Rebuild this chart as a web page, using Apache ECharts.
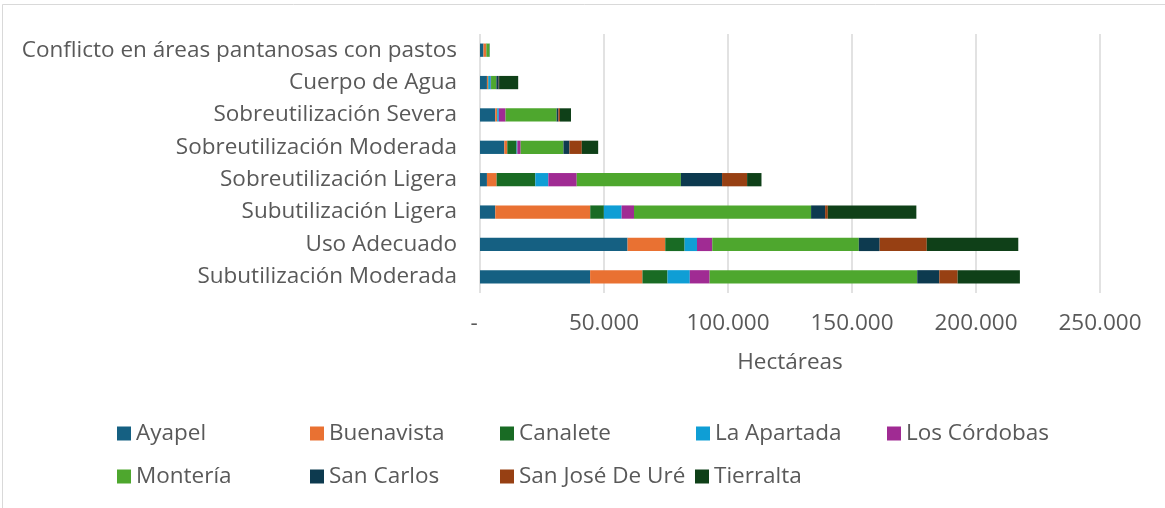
<!DOCTYPE html>
<html>
<head>
<meta charset="utf-8">
<script src="https://cdn.jsdelivr.net/npm/echarts@6/dist/echarts.min.js"></script>
<style>
  html, body { margin: 0; padding: 0; background: #fff; }
  #main { width: 1165px; height: 508px; }
</style>
</head>
<body>
<div id="main"></div>
<script>
// categorias (de arriba hacia abajo)
const categories = [
  'Conflicto en áreas pantanosas con pastos',
  'Cuerpo de Agua',
  'Sobreutilización Severa',
  'Sobreutilización Moderada',
  'Sobreutilización Ligera',
  'Subutilización Ligera',
  'Uso Adecuado',
  'Subutilización Moderada'
];

// hectareas por municipio, mismo orden que categories
const ayapel      = [1400, 2800, 6150, 9800, 2800, 6150, 59500, 44400];
const buenavista  = [1100, 400, 700, 1200, 3900, 38300, 15200, 21100];
const canalete    = [150, 200, 100, 3750, 15600, 5500, 7800, 10100];
const laApartada  = [0, 950, 650, 300, 5250, 7150, 5000, 9000];
const losCordobas = [0, 100, 2700, 1350, 11450, 5000, 6150, 8000];
const monteria    = [1200, 2150, 20600, 17250, 42000, 71400, 59100, 83700];
const sanCarlos   = [100, 950, 700, 2400, 16600, 5650, 8400, 8900];
const sanJose     = [0, 150, 650, 5000, 10100, 1100, 19000, 7400];
const tierralta   = [0, 7700, 4450, 6600, 5800, 35700, 36900, 25100];

const seriesNames = ['Ayapel', 'Buenavista', 'Canalete', 'La Apartada', 'Los Córdobas',
  'Montería', 'San Carlos', 'San José De Uré', 'Tierralta'];
const seriesData = [ayapel, buenavista, canalete, laApartada, losCordobas,
  monteria, sanCarlos, sanJose, tierralta];
const colors = ['#156082', '#E97132', '#196B24', '#0F9ED5', '#A02B93',
  '#4EA72E', '#0D3A4F', '#974013', '#0F4018'];

const xTicks = [0, 50000, 100000, 150000, 200000, 250000];

const textColor = '#595959';
const fontFamily = 'Open Sans';
const fontSize = 22.5;

// posiciones de la leyenda (dos filas, estilo Excel)
const legendPos = [
  [117, 422], [310, 422], [500, 422], [696, 422], [887, 422],
  [117, 465], [310, 465], [500, 465], [695, 465]
];

function fmt(v) {
  if (v === 0) return '-  ';
  return String(v).replace(/\B(?=(\d{3})+(?!\d))/g, '.');
}

const chart = echarts.init(document.getElementById('main'));

const option = {
  backgroundColor: '#fff',
  animation: false,
  color: colors,
  textStyle: { fontFamily: fontFamily },
  graphic: [{
    type: 'rect',
    shape: { x: 2.5, y: 4.5, width: 1300, height: 700 },
    style: { fill: 'none', stroke: '#d9d9d9', lineWidth: 1 },
    silent: true
  }],
  legend: seriesNames.map((n, i) => ({
    data: [n],
    left: legendPos[i][0],
    top: legendPos[i][1],
    itemWidth: 14,
    itemHeight: 14,
    icon: 'rect',
    padding: 0,
    textStyle: { color: textColor, fontSize: fontSize, fontFamily: fontFamily }
  })),
  grid: { left: 480, right: 65, top: 34, bottom: 215, containLabel: false },
  xAxis: {
    type: 'value',
    min: xTicks[0],
    max: xTicks[xTicks.length - 1],
    interval: 50000,
    name: 'Hectáreas',
    nameLocation: 'middle',
    nameGap: 58,
    nameTextStyle: { color: textColor, fontSize: fontSize },
    axisLine: { show: false },
    axisTick: { show: false },
    axisLabel: { color: textColor, fontSize: fontSize, margin: 19, formatter: fmt },
    splitLine: { lineStyle: { color: '#d9d9d9', width: 1.5 } }
  },
  yAxis: {
    type: 'category',
    data: categories,
    inverse: true,
    axisLine: { show: false },
    axisTick: { show: false },
    axisLabel: { color: textColor, fontSize: fontSize, margin: 23 }
  },
  series: seriesNames.map((n, i) => ({
    name: n,
    type: 'bar',
    stack: 'total',
    barWidth: '41%',
    data: seriesData[i],
    itemStyle: { color: colors[i] }
  }))
};

chart.setOption(option);
</script>
</body>
</html>
